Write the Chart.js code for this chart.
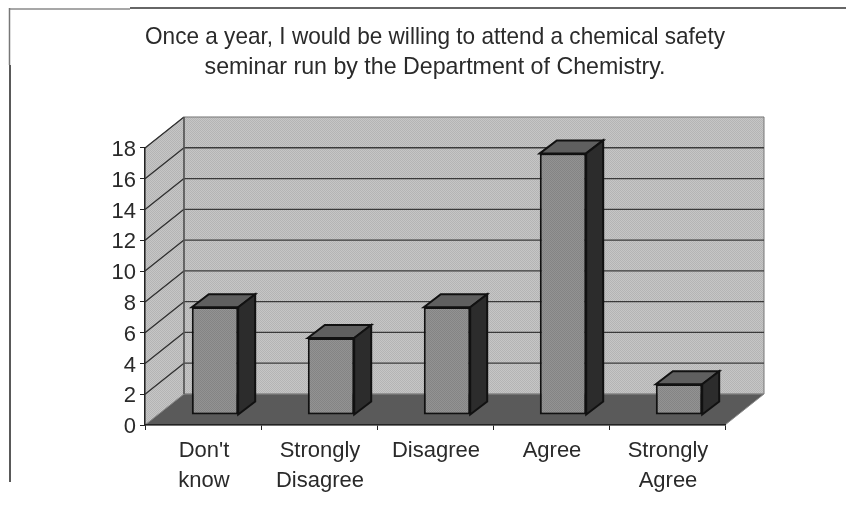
<!DOCTYPE html>
<html>
<head>
<meta charset="utf-8">
<style>
html,body{margin:0;padding:0;background:#fff}
canvas{display:block}
</style>
<script src="https://cdn.jsdelivr.net/npm/chart.js@4"></script>
</head>
<body>
<canvas id="survey" width="846" height="510"></canvas>
<script>
const titleLines = ["Once a year, I would be willing to attend a chemical safety", "seminar run by the Department of Chemistry."];
const categories = [["Don't", "know"], ["Strongly", "Disagree"], "Disagree", "Agree", ["Strongly", "Agree"]];
const responses = [7, 5, 7, 17, 2];
const yTickStep = 2;
const yMax = 18;

const INK = "#2a2a2a";

// Oblique offset of the back wall and of each bar's front face.
const wallDepth = {dx: 39, dy: 31};
const barShift = {dx: 12, dy: 10};
const barDepth = {dx: 17, dy: 13};

function stipple(ctx, light, dark) {
  const tile = document.createElement("canvas");
  tile.width = tile.height = 2;
  const t = tile.getContext("2d");
  t.fillStyle = light; t.fillRect(0, 0, 2, 2);
  t.fillStyle = dark; t.fillRect(0, 0, 1, 1); t.fillRect(1, 1, 1, 1);
  return ctx.createPattern(tile, "repeat");
}

function poly(ctx, pts, fill, stroke, width) {
  ctx.beginPath();
  pts.forEach((p, i) => i ? ctx.lineTo(p[0], p[1]) : ctx.moveTo(p[0], p[1]));
  ctx.closePath();
  if (fill) { ctx.fillStyle = fill; ctx.fill(); }
  if (stroke) { ctx.strokeStyle = stroke; ctx.lineWidth = width; ctx.stroke(); }
}

function rule(ctx, color, width, x1, y1, x2, y2) {
  ctx.strokeStyle = color; ctx.lineWidth = width;
  ctx.beginPath(); ctx.moveTo(x1, y1); ctx.lineTo(x2, y2); ctx.stroke();
}

const frame3d = {
  id: "frame3d",
  beforeDraw(chart) {
    const {ctx, chartArea: a, scales: {y}} = chart;
    const {dx, dy} = wallDepth;
    ctx.save();
    // Page frame around the chart
    rule(ctx, "#8a8a8a", 1.5, 10, 9, 130, 9);
    rule(ctx, "#333", 1.5, 130, 8, 846, 8);
    rule(ctx, "#777", 1.5, 9.5, 8, 9.5, 65);
    rule(ctx, "#222", 1.5, 10, 65, 10, 482);
    // Side wall and back wall
    const wall = stipple(ctx, "#c6c6c6", "#b4b4b4");
    poly(ctx, [[a.left, a.top], [a.left + dx, a.top - dy], [a.left + dx, a.bottom - dy], [a.left, a.bottom]], wall, "#9a9a9a", 1);
    poly(ctx, [[a.left + dx, a.top - dy], [a.right + dx, a.top - dy], [a.right + dx, a.bottom - dy], [a.left + dx, a.bottom - dy]], wall, "#777", 1);
    // Floor
    poly(ctx, [[a.left, a.bottom], [a.right, a.bottom], [a.right + dx, a.bottom - dy], [a.left + dx, a.bottom - dy]], "#5a5a5a", "#8a8a8a", 1);
    // Gridlines follow each y tick across both walls
    y.ticks.forEach(t => {
      if (t.value === 0) return;
      const py = y.getPixelForValue(t.value);
      rule(ctx, "#2e2e2e", 1.3, a.left, py, a.left + dx, py - dy);
      if (t.value !== yMax) rule(ctx, "#3a3a3a", 1.3, a.left + dx, py - dy, a.right + dx, py - dy);
    });
    rule(ctx, "#555", 1.5, a.left + dx, a.top - dy, a.left + dx, a.bottom - dy);
    ctx.restore();
  },
  beforeDatasetsDraw(chart) {
    chart.ctx.save();
    chart.ctx.translate(barShift.dx, -barShift.dy);
  },
  afterDatasetsDraw(chart) {
    const {ctx} = chart;
    const {dx, dy} = barDepth;
    // Top and side faces extend from each front face
    chart.getDatasetMeta(0).data.forEach(bar => {
      const l = bar.x - bar.width / 2, r = bar.x + bar.width / 2;
      const t = bar.y, b = bar.base;
      poly(ctx, [[l, t], [l + dx, t - dy], [r + dx, t - dy], [r, t]], "#5f5f5f", "#111", 2);
      poly(ctx, [[r, t], [r + dx, t - dy], [r + dx, b - dy], [r, b]], "#2c2c2c", "#111", 2);
    });
    ctx.restore();
  }
};

new Chart(document.getElementById("survey"), {
  type: "bar",
  data: {
    labels: categories,
    datasets: [{
      data: responses,
      backgroundColor: ctx => stipple(ctx.chart.ctx, "#939393", "#848484"),
      borderColor: "#111",
      borderWidth: 2,
      borderSkipped: false,
      barPercentage: 0.4,
      categoryPercentage: 1,
      clip: false
    }]
  },
  plugins: [frame3d],
  options: {
    responsive: false,
    animation: false,
    layout: {padding: {left: 24, right: 121, top: 0, bottom: 0}},
    plugins: {
      legend: {display: false},
      tooltip: {enabled: false},
      title: {
        display: true,
        fullSize: false,
        text: titleLines,
        color: INK,
        font: {family: "Liberation Sans", size: 23.2, weight: "normal", lineHeight: 1.293},
        padding: {top: 23, bottom: 65}
      }
    },
    scales: {
      x: {
        grid: {drawOnChartArea: false, drawTicks: true, tickLength: 5, color: "#222", offset: true},
        border: {color: "#222", width: 1.5},
        ticks: {color: INK, maxRotation: 0, autoSkip: false, padding: 6, labelOffset: 1,
                font: {family: "Liberation Sans", size: 22, lineHeight: 1.36}},
        afterFit(s) { s.height = 85; }
      },
      y: {
        min: 0, max: yMax,
        grid: {drawOnChartArea: false, drawTicks: true, tickLength: 5, color: "#222"},
        border: {color: "#222", width: 1.5},
        ticks: {stepSize: yTickStep, color: INK, padding: 4, labelOffset: 2,
                font: {family: "Liberation Sans", size: 22}},
        afterFit(s) { s.width = 121; }
      }
    }
  }
});
</script>
</body>
</html>
